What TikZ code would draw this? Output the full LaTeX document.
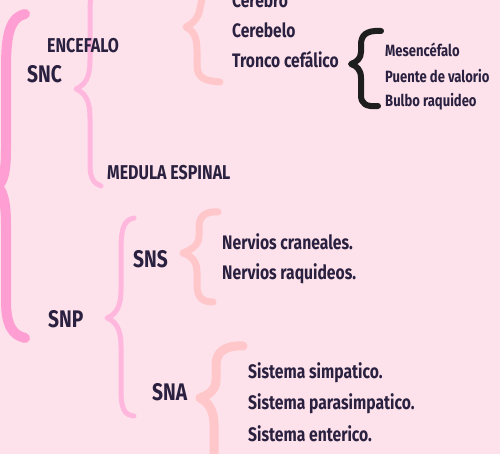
\documentclass[tikz,border=0pt]{standalone}
\usepackage{fontspec}
\setmainfont{Fira Sans}[FakeStretch=0.8]
\definecolor{bg}{HTML}{FDE2EB}
\definecolor{bigpink}{HTML}{FF9ED2}
\definecolor{lightpink}{HTML}{FFB7DE}
\definecolor{peach}{HTML}{FFC7C9}
\definecolor{ink}{HTML}{2A2140}
\definecolor{blackbr}{HTML}{1E1E1E}
\begin{document}
\begin{tikzpicture}[x=1pt,y=-1pt,
  bigbr/.style={draw=bigpink,line width=10pt,line cap=round,line join=round},
  br2/.style={draw=lightpink,line width=5pt,line cap=round,line join=round},
  peachbr/.style={draw=peach,line width=7pt,line cap=round,line join=round},
  blkbr/.style={draw=blackbr,line width=6pt,line cap=round,line join=round},
  big/.style={anchor=base west,inner sep=0pt,text=ink,font=\fontsize{24}{24}\selectfont\bfseries},
  mid/.style={anchor=base west,inner sep=0pt,text=ink,font=\fontsize{19.5}{19.5}\selectfont\bfseries},
  small/.style={anchor=base west,inner sep=0pt,text=ink,font=\fontsize{20}{20}\selectfont\bfseries},
  item/.style={anchor=base west,inner sep=0pt,text=ink,font=\fontsize{19.6}{19.6}\selectfont\bfseries},
  tiny/.style={anchor=base west,inner sep=0pt,text=ink,font=\fontsize{16.3}{16.3}\selectfont\bfseries}]
\useasboundingbox (0,0) rectangle (500,454);
\fill[bg] (0,0) rectangle (500,454);
\clip (0,0) rectangle (500,454);
% braces
\draw[bigbr] (25,14) .. controls (8,18) and (6,40) .. (6,70) -- (6,150) .. controls (6,175) and (2,185) .. (-4,186) .. controls (2,188) and (6,200) .. (6,225) -- (6,300) .. controls (6,325) and (12,335) .. (25,338);
\draw[br2] (93,-10) .. controls (90,0) .. (90,20) -- (90,60) .. controls (90,78) and (85,85) .. (76,89) .. controls (85,93) and (90,100) .. (90,118) -- (90,165) .. controls (90,178) and (94,184) .. (101,186);
\draw[peachbr] (203,-5) -- (200,8) .. controls (199,18) and (192,24) .. (186,27) .. controls (194,31) and (197,38) .. (197,50) -- (197,65) .. controls (197,78) and (205,81) .. (220,82);
\draw[blkbr] (381,31) .. controls (365,30) and (361,36) .. (361,45) -- (361,52) .. controls (361,58) and (357,62) .. (351,64) .. controls (357,66) and (361,70) .. (361,78) -- (361,95) .. controls (361,104) and (366,107) .. (378,106);
\draw[br2] (134,218) .. controls (124,220) and (121,228) .. (121,250) -- (121,290) .. controls (121,308) and (115,315) .. (107,318) .. controls (115,321) and (121,328) .. (121,346) -- (121,390) .. controls (121,410) and (125,415) .. (134,416);
\draw[peachbr] (218,212) .. controls (203,211) and (199,218) .. (199,228) -- (199,236) .. controls (199,246) and (190,250) .. (183,253) .. controls (192,256) and (197,262) .. (197,272) -- (197,285) .. controls (197,298) and (203,302) .. (213,302);
\draw[peachbr,line width=9pt] (243,346) .. controls (225,345) and (216,352) .. (216,365) -- (216,380) .. controls (216,392) and (205,396) .. (200,398) .. controls (208,402) and (214,410) .. (214,425) -- (214,460);
% texts
\node[big] (snc) at (27,83) {SNC};
\node[small] (encefalo) at (47,53) {ENCEFALO};
\node[small] (medula) at (107,180) {MEDULA ESPINAL};
\node[mid] (cerebro) at (232,8) {Cerebro};
\node[mid] (cerebelo) at (232,38) {Cerebelo};
\node[mid] (tronco) at (232,68) {Tronco cefálico};
\node[tiny] (mesen) at (385,57) {Mesencéfalo};
\node[tiny] (puente) at (385,83) {Puente de valorio};
\node[tiny] (bulbo) at (385,107) {Bulbo raquideo};
\node[big] (snp) at (48,327) {SNP};
\node[big] (sns) at (133,267) {SNS};
\node[big] (sna) at (152,400) {SNA};
\node[item] (ncran) at (222,250) {Nervios craneales.};
\node[item] (nraq) at (222,279) {Nervios raquideos.};
\node[item] (ssimp) at (248,378) {Sistema simpatico.};
\node[item] (spara) at (248,409) {Sistema parasimpatico.};
\node[item] (sent) at (248,441) {Sistema enterico.};
\end{tikzpicture}
\end{document}
